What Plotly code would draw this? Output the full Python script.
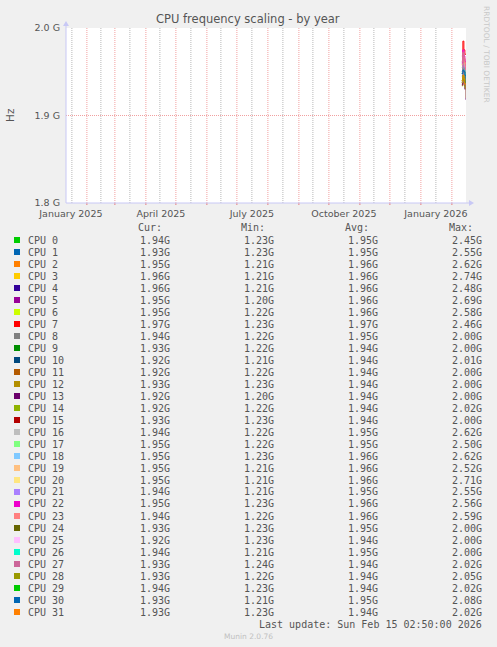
import plotly.graph_objects as go

# ---------------- data ----------------
cpu_names = [f"CPU {i}" for i in range(32)]
colors = ["#00CC00", "#0066B3", "#FF8000", "#FFCC00", "#330099", "#990099", "#CCFF00", "#FF0000",
          "#808080", "#008F00", "#00487D", "#B35A00", "#B38F00", "#6B006B", "#8FB300", "#B30000",
          "#BEBEBE", "#80FF80", "#80C9FF", "#FFC080", "#FFE680", "#AA80FF", "#EE00CC", "#FF8080",
          "#666600", "#FFBFFF", "#00FFCC", "#CC6699", "#999900", "#00CC00", "#0066B3", "#FF8000"]

dates = ["2026-02-11 00:00", "2026-02-12 00:00", "2026-02-13 00:00", "2026-02-14 00:00", "2026-02-15 02:50"]

series = [
    [1.950, 1.955, 1.948, 1.952, 1.940],
    [1.945, 1.952, 1.950, 1.948, 1.930],
    [1.955, 1.962, 1.958, 1.960, 1.950],
    [1.958, 1.965, 1.962, 1.960, 1.960],
    [1.960, 1.966, 1.962, 1.958, 1.960],
    [1.962, 1.970, 1.965, 1.960, 1.950],
    [1.958, 1.964, 1.962, 1.960, 1.950],
    [1.968, 1.985, 1.975, 1.970, 1.970],
    [1.948, 1.955, 1.950, 1.946, 1.940],
    [1.940, 1.945, 1.942, 1.938, 1.930],
    [1.938, 1.944, 1.940, 1.935, 1.920],
    [1.936, 1.942, 1.940, 1.934, 1.920],
    [1.934, 1.942, 1.940, 1.938, 1.930],
    [1.935, 1.942, 1.938, 1.930, 1.918],
    [1.938, 1.943, 1.940, 1.932, 1.920],
    [1.938, 1.945, 1.942, 1.936, 1.930],
    [1.950, 1.955, 1.952, 1.946, 1.940],
    [1.948, 1.956, 1.952, 1.950, 1.950],
    [1.955, 1.962, 1.958, 1.955, 1.950],
    [1.958, 1.965, 1.960, 1.956, 1.950],
    [1.958, 1.966, 1.962, 1.956, 1.950],
    [1.950, 1.958, 1.955, 1.948, 1.940],
    [1.960, 1.975, 1.968, 1.962, 1.950],
    [1.962, 1.972, 1.966, 1.960, 1.940],
    [1.948, 1.954, 1.950, 1.944, 1.930],
    [1.938, 1.945, 1.942, 1.936, 1.920],
    [1.948, 1.955, 1.952, 1.946, 1.940],
    [1.940, 1.972, 1.945, 1.935, 1.930],
    [1.938, 1.944, 1.940, 1.936, 1.930],
    [1.940, 1.946, 1.942, 1.938, 1.940],
    [1.948, 1.952, 1.950, 1.946, 1.930],
    [1.940, 1.946, 1.942, 1.936, 1.930],
]

cur = ["1.94G", "1.93G", "1.95G", "1.96G", "1.96G", "1.95G", "1.95G", "1.97G", "1.94G", "1.93G",
       "1.92G", "1.92G", "1.93G", "1.92G", "1.92G", "1.93G", "1.94G", "1.95G", "1.95G", "1.95G",
       "1.95G", "1.94G", "1.95G", "1.94G", "1.93G", "1.92G", "1.94G", "1.93G", "1.93G", "1.94G",
       "1.93G", "1.93G"]
mins = ["1.23G", "1.23G", "1.21G", "1.21G", "1.21G", "1.20G", "1.22G", "1.23G", "1.22G", "1.22G",
        "1.21G", "1.22G", "1.23G", "1.20G", "1.22G", "1.23G", "1.22G", "1.22G", "1.23G", "1.21G",
        "1.21G", "1.21G", "1.23G", "1.22G", "1.23G", "1.23G", "1.21G", "1.24G", "1.22G", "1.23G",
        "1.21G", "1.23G"]
avgs = ["1.95G", "1.95G", "1.96G", "1.96G", "1.96G", "1.96G", "1.96G", "1.97G", "1.95G", "1.94G",
        "1.94G", "1.94G", "1.94G", "1.94G", "1.94G", "1.94G", "1.95G", "1.95G", "1.96G", "1.96G",
        "1.96G", "1.95G", "1.96G", "1.96G", "1.95G", "1.94G", "1.95G", "1.94G", "1.94G", "1.94G",
        "1.95G", "1.94G"]
maxs = ["2.45G", "2.55G", "2.62G", "2.74G", "2.48G", "2.69G", "2.58G", "2.46G", "2.00G", "2.00G",
        "2.01G", "2.00G", "2.00G", "2.00G", "2.02G", "2.00G", "2.62G", "2.50G", "2.62G", "2.52G",
        "2.71G", "2.55G", "2.56G", "2.59G", "2.00G", "2.00G", "2.00G", "2.02G", "2.05G", "2.02G",
        "2.08G", "2.02G"]

x_start = "2025-01-11 02:50"
x_end = "2026-02-15 02:50"
ytick_vals = [1.8, 1.9, 2.0]
ytick_text = ["1.8 G", "1.9 G", "2.0 G"]
xtick_vals = ["2025-01-16", "2025-04-16", "2025-07-16", "2025-10-16", "2026-01-16"]
xtick_text = ["January 2025", "April 2025", "July 2025", "October 2025", "January 2026"]
major_grid = ["2025-02-01", "2025-03-01", "2025-04-01", "2025-05-01", "2025-06-01", "2025-07-01",
              "2025-08-01", "2025-09-01", "2025-10-01", "2025-11-01", "2025-12-01", "2026-01-01",
              "2026-02-01"]
minor_grid = ["2025-01-17", "2025-02-15", "2025-03-16", "2025-04-15", "2025-05-16", "2025-06-15",
              "2025-07-16", "2025-08-16", "2025-09-15", "2025-10-16", "2025-11-15", "2025-12-16",
              "2026-01-16"]
last_update = "Last update: Sun Feb 15 02:50:00 2026"

# ---------------- layout geometry (pixels) ----------------
W, H = 497, 647
L, R, T, B = 66, 466, 28, 203

def px(x):
    return (x - L) / (R - L)

def py(y):
    return (B - y) / (B - T)

TXT = "#555555"
MONO = "DejaVu Sans Mono"
SANS = "DejaVu Sans"
DOT = "1px,1px"

fig = go.Figure()
for name, col, vals in zip(cpu_names, colors, series):
    fig.add_trace(go.Scatter(x=dates, y=vals, mode="lines", name=name,
                             line=dict(color=col, width=1, shape="hv"),
                             showlegend=False, hoverinfo="skip"))

shapes = []
for d in minor_grid:
    shapes.append(dict(type="line", xref="x", yref="paper", x0=d, x1=d, y0=0, y1=1,
                       line=dict(color="rgba(160,160,160,0.75)", width=1, dash=DOT), layer="below"))
for d in major_grid:
    shapes.append(dict(type="line", xref="x", yref="paper", x0=d, x1=d, y0=0, y1=1,
                       line=dict(color="rgba(235,120,120,0.7)", width=1, dash=DOT), layer="below"))
    shapes.append(dict(type="line", xref="x", yref="paper", x0=d, x1=d, y0=py(B), y1=py(B + 2),
                       line=dict(color="rgba(230,110,110,0.9)", width=1)))
# axis lines with arrows
axcol = "#C8C8F5"
shapes.append(dict(type="line", xref="paper", yref="paper", x0=px(L), x1=px(R + 4), y0=0, y1=0,
                   line=dict(color=axcol, width=1)))
shapes.append(dict(type="line", xref="paper", yref="paper", x0=0, x1=0, y0=0, y1=py(T - 5),
                   line=dict(color=axcol, width=1)))
shapes.append(dict(type="path", xref="paper", yref="paper",
                   path=f"M {px(R+3)} {py(B-3)} L {px(R+8)} {py(B)} L {px(R+3)} {py(B+3)} Z",
                   fillcolor=axcol, line=dict(color=axcol, width=0)))
shapes.append(dict(type="path", xref="paper", yref="paper",
                   path=f"M {px(L-3)} {py(T-2)} L {px(L)} {py(T-7)} L {px(L+3)} {py(T-2)} Z",
                   fillcolor=axcol, line=dict(color=axcol, width=0)))

annotations = []
def ann(text, x, y, xanchor="left", size=10, color=TXT, family=MONO, angle=0):
    annotations.append(dict(text=text, x=px(x), y=py(y), xref="paper", yref="paper",
                            xanchor=xanchor, yanchor="middle", showarrow=False,
                            textangle=angle, font=dict(family=family, size=size, color=color)))

ann("CPU frequency scaling - by year", 248, 19, xanchor="center", size=11.5, family=SANS)
ann("Hz", 10, 115, xanchor="center", size=10.5, family=SANS, angle=-90)
ann("RRDTOOL / TOBI OETIKER", 487, 54, xanchor="center", size=7.5, family=SANS,
    color="#C8C8C8", angle=90)

ann("Cur:", 136, 227)
ann("Min:", 239, 227)
ann("Avg:", 343, 227)
ann("Max:", 447, 227)
for i, name in enumerate(cpu_names):
    yy = 240 + 12 * i
    shapes.append(dict(type="rect", xref="paper", yref="paper",
                       x0=px(14), x1=px(20), y0=py(yy + 3), y1=py(yy - 3),
                       fillcolor=colors[i], line=dict(width=0)))
    ann(name, 26, yy)
    ann(cur[i], 171.5, yy, xanchor="right")
    ann(mins[i], 275.5, yy, xanchor="right")
    ann(avgs[i], 379.5, yy, xanchor="right")
    ann(maxs[i], 483.5, yy, xanchor="right")
ann(last_update, 483.5, 624, xanchor="right")
ann("Munin 2.0.76", 248, 636, xanchor="center", size=7.5, family=SANS, color="#C0C0C0")

fig.update_layout(
    width=W, height=H,
    margin=dict(l=L, r=W - R, t=T, b=H - B, pad=0),
    paper_bgcolor="#F0F0F0", plot_bgcolor="#FFFFFF",
    shapes=shapes, annotations=annotations,
    xaxis=dict(range=[x_start, x_end], type="date", tickvals=xtick_vals, ticktext=xtick_text,
               showgrid=False, zeroline=False, showline=False, ticks="", ticklabelstandoff=3,
               tickfont=dict(family=SANS, size=9.5, color=TXT), fixedrange=True),
    yaxis=dict(range=[1.8, 2.0], tickvals=ytick_vals, ticktext=ytick_text,
               showgrid=True, gridcolor="rgba(235,120,120,0.7)", griddash=DOT, gridwidth=1,
               zeroline=False, showline=False, ticks="", ticklabelstandoff=5,
               tickfont=dict(family=SANS, size=9.5, color=TXT), fixedrange=True),
)

fig.write_html("out.html", config={"displayModeBar": False, "staticPlot": True},
               post_script="document.body.style.margin='0';document.body.style.padding='0';"
                           "document.body.style.background='#F0F0F0';")
